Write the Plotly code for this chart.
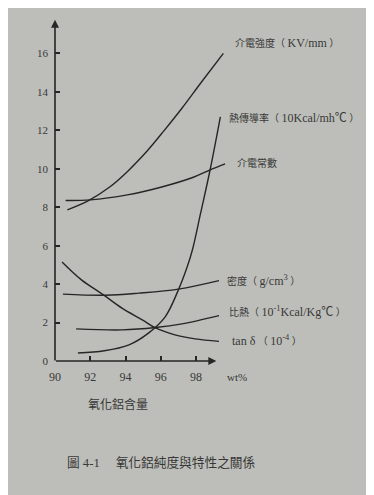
import plotly.graph_objects as go

# ---- data ----
strength_x = [90.7, 91.9, 93.1, 94.1, 95.25, 96.2, 97.2, 98.3, 99.55]
strength_y = [7.86, 8.34, 9.05, 9.85, 10.95, 12.0, 13.15, 14.5, 16.0]

thermal_x = [91.3, 92.8, 94.2, 95.3, 96.25, 97.0, 97.5, 97.8, 98.25, 98.8, 99.38]
thermal_y = [0.42, 0.53, 0.84, 1.45, 2.3, 3.7, 4.9, 5.8, 7.65, 9.95, 12.7]

const_x = [90.6, 92.0, 94.1, 96.0, 97.85, 98.8, 99.65]
const_y = [8.35, 8.38, 8.64, 9.04, 9.56, 9.94, 10.25]

density_x = [90.45, 92.85, 94.75, 97.0, 99.3]
density_y = [3.48, 3.42, 3.53, 3.74, 4.18]

spheat_x = [91.2, 93.8, 95.7, 97.2, 99.3]
spheat_y = [1.67, 1.62, 1.74, 1.93, 2.36]

tand_x = [90.4, 91.5, 92.75, 93.8, 94.95, 95.7, 96.8, 97.95, 99.3]
tand_y = [5.15, 4.22, 3.44, 2.75, 2.14, 1.72, 1.36, 1.15, 1.02]

x_ticks = [90, 92, 94, 96, 98]
y_ticks = [0, 2, 4, 6, 8, 10, 12, 14, 16]

LAT = "<span style='font-size:12px'>{}</span>"
curve_labels = [
    "介電強度（ " + LAT.format("KV/mm") + " ）",
    "熱傳導率（ " + LAT.format("10Kcal/mh℃") + " ）",
    "介電常數",
    "密度（ " + LAT.format("g/cm<sup>3</sup>") + " ）",
    "比熱（ " + LAT.format("10<sup>-1</sup>Kcal/Kg℃") + " ）",
    LAT.format("tan δ") + " （ " + LAT.format("10<sup>-4</sup>") + " ）",
]
x_unit = "wt%"
x_title = "氧化鋁含量"
caption = "圖 4-1　 氧化鋁純度與特性之關係"

X_RANGE = [90, 99.7]
Y_RANGE = [0, 18]

# label anchor positions (paper fractions of the plot area)
label_px = [1.041, 1.007, 1.055, 0.996, 1.007, 1.025]
label_py = [0.919, 0.702, 0.572, 0.232, 0.142, 0.058]

INK = "#262626"
TXT = "#383838"
BG = "#bdbeb9"
FONT = "Liberation Serif, Noto Sans CJK TC, serif"

fig = go.Figure()
for xs, ys in [(strength_x, strength_y), (thermal_x, thermal_y), (const_x, const_y),
               (density_x, density_y), (spheat_x, spheat_y), (tand_x, tand_y)]:
    fig.add_trace(go.Scatter(x=xs, y=ys, mode="lines",
                             line=dict(color=INK, width=1.4, shape="spline", smoothing=1.0),
                             showlegend=False, hoverinfo="skip"))

ann = []
# axis lines with arrowheads
ann.append(dict(x=99.15, y=0, ax=89.97, ay=0, xref="x", yref="y", axref="x", ayref="y",
                text="", showarrow=True, arrowhead=2, arrowsize=1.0, arrowwidth=1.6, arrowcolor=INK))
ann.append(dict(x=90, y=17.75, ax=90, ay=-0.05, xref="x", yref="y", axref="x", ayref="y",
                text="", showarrow=True, arrowhead=2, arrowsize=1.0, arrowwidth=1.6, arrowcolor=INK))
for t, px, py in zip(curve_labels, label_px, label_py):
    ann.append(dict(x=px, y=py, xref="paper", yref="paper", text=t, showarrow=False,
                    xanchor="left", yanchor="middle",
                    font=dict(family=FONT, size=10, color=TXT)))
ann.append(dict(x=0.996, y=-0.0456, xref="paper", yref="paper", text=x_unit, showarrow=False,
                xanchor="left", yanchor="middle", font=dict(family=FONT, size=11, color=TXT)))
ann.append(dict(x=0.369, y=-0.126, xref="paper", yref="paper", text=x_title, showarrow=False,
                xanchor="center", yanchor="middle", font=dict(family=FONT, size=12, color=TXT)))
ann.append(dict(x=0.0567, y=-0.294, xref="paper", yref="paper", text=caption, showarrow=False,
                xanchor="left", yanchor="middle", font=dict(family=FONT, size=12.7, color=TXT)))

fig.update_layout(
    width=374, height=495, autosize=False,
    margin=dict(l=47, r=156, t=7, b=142),
    paper_bgcolor=BG, plot_bgcolor=BG,
    annotations=ann,
    xaxis=dict(range=X_RANGE, tickvals=x_ticks, ticks="inside", ticklen=5, tickwidth=1.5,
               tickcolor=INK, showgrid=False, zeroline=False, showline=False,
               tickfont=dict(family=FONT, size=12, color=TXT), ticklabelstandoff=7),
    yaxis=dict(range=Y_RANGE, tickvals=y_ticks, ticks="inside", ticklen=5, tickwidth=1.5,
               tickcolor=INK, showgrid=False, zeroline=False, showline=False,
               tickfont=dict(family=FONT, size=11, color=TXT), ticklabelstandoff=6),
)

fig.write_html("out.html")
